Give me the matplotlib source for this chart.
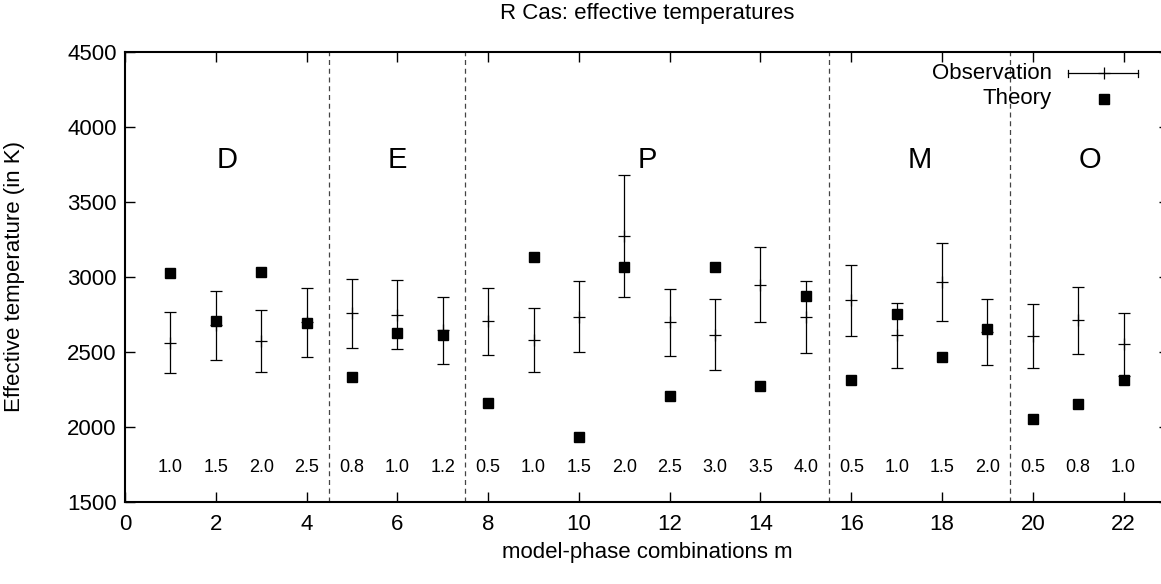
import numpy as np
import matplotlib
matplotlib.use("Agg")
import matplotlib.pyplot as plt

plt.rcParams['font.family'] = ['Liberation Sans', 'DejaVu Sans']

# model-phase combinations
m = np.arange(1, 23)
obs = [2562, 2677, 2573, 2697, 2758, 2749, 2644, 2704, 2580, 2736, 3271,
       2698, 2616, 2949, 2731, 2844, 2611, 2968, 2635, 2604, 2711, 2551]
obs_err = [205, 230, 206, 233, 229, 231, 224, 225, 216, 236, 407,
           224, 235, 252, 240, 238, 216, 259, 219, 213, 225, 211]
theory = [3025, 2705, 3031, 2693, 2331, 2624, 2613, 2162, 3131, 1931, 3065,
          2204, 3065, 2271, 2871, 2311, 2751, 2464, 2651, 2051, 2151, 2313]
phases = ['1.0', '1.5', '2.0', '2.5', '0.8', '1.0', '1.2', '0.5', '1.0', '1.5',
          '2.0', '2.5', '3.0', '3.5', '4.0', '0.5', '1.0', '1.5', '2.0',
          '0.5', '0.8', '1.0']
models = ['D', 'E', 'P', 'M', 'O']
bounds = [0, 4.5, 7.5, 15.5, 19.5, 23]

fig = plt.figure(figsize=(11.61, 5.84), dpi=100)
ax = fig.add_axes([125/1161, 82/584, 1044/1161, 450/584])

# group separators
for b in bounds[1:-1]:
    ax.axvline(b, color='#444444', lw=0.9, ls=(0, (4, 3)))

ax.errorbar(m, obs, yerr=obs_err, fmt='+', color='black', ms=8, mew=0.9,
            elinewidth=0.9, capsize=4, capthick=0.9)
ax.plot(m, theory, 's', color='black', ms=7)

# model letters and phase labels
for i, name in enumerate(models):
    ax.text((bounds[i] + bounds[i + 1]) / 2, 3780, name, ha='center',
            va='center', fontsize=21)
for x, p in zip(m, phases):
    ax.text(x, 1730, p, ha='center', va='center', fontsize=13)

# legend, gnuplot style
ta = ax.transAxes
ax.text(0.888, 0.953, 'Observation', transform=ta, ha='right', va='center',
        fontsize=16)
ax.text(0.888, 0.896, 'Theory', transform=ta, ha='right', va='center',
        fontsize=16)
ax.plot([0.903, 0.970], [0.953, 0.953], color='black', lw=0.9, transform=ta)
for xx in [0.903, 0.970]:
    ax.plot([xx, xx], [0.945, 0.961], color='black', lw=0.9, transform=ta)
ax.plot([0.938], [0.953], '+', color='black', ms=8, mew=0.9, transform=ta)
ax.plot([0.938], [0.896], 's', color='black', ms=7, transform=ta)

ax.set_xlim(0, 23)
ax.set_ylim(1500, 4500)
ax.set_xticks(np.arange(0, 23, 2))
ax.set_yticks(np.arange(1500, 4501, 500))
ax.tick_params(direction='in', length=7, width=1, top=True, right=True,
               labelsize=16, pad=6)
ax.tick_params(axis='x', pad=9)
for s in ax.spines.values():
    s.set_linewidth(1.5)

ax.set_xlabel('model-phase combinations m', fontsize=16, labelpad=5)
ax.set_ylabel('Effective temperature (in K)', fontsize=16, labelpad=30)
ax.set_title('R Cas: effective temperatures', fontsize=16, pad=24)

fig.savefig('out.png', dpi=100)
